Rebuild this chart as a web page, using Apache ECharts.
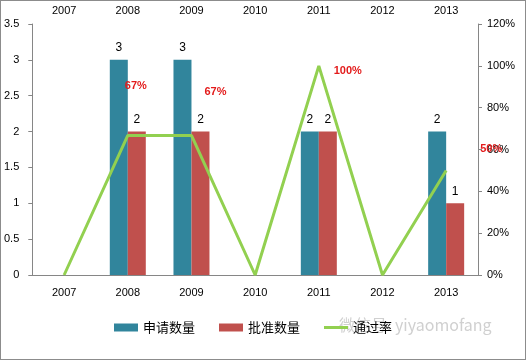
<!DOCTYPE html>
<html><head><meta charset="utf-8">
<script src="https://cdn.jsdelivr.net/npm/echarts@6/dist/echarts.min.js"></script>
<style>html,body{margin:0;padding:0;background:#fff}#c{width:526px;height:360px;box-sizing:border-box;border:1px solid #8c8c8c}</style>
</head><body><div id="c"></div>
<script>
const categories = ['2007','2008','2009','2010','2011','2012','2013'];
const applied = [null, 3, 3, null, 2, null, 2];
const approved = [null, 2, 2, null, 2, null, 1];
const passRate = [0, 0.667, 0.667, 0, 1.0, 0, 0.5];
const leftTicks = [0, 0.5, 1, 1.5, 2, 2.5, 3, 3.5];
const rightTicks = ['0%','20%','40%','60%','80%','100%','120%'];
const rateLabelOffsets = [null, [8,-39], [24,-33], null, [29,16], null, [45,-11]];

const chart = echarts.init(document.getElementById('c'));
const font = 'Liberation Sans';
chart.setOption({
  animation: false,
  textStyle: {fontFamily: font},
  grid: {left: 31, right: 47, top: 23, bottom: 84},
  legend: {
    bottom: 20, left: 108,
    itemWidth: 24, itemHeight: 8, itemGap: 24,
    textStyle: {fontFamily: 'Noto Sans CJK SC', fontSize: 13, color: '#000'},
    data: [{name: '申请数量', icon: 'rect'}, {name: '批准数量', icon: 'rect'},
      {name: '通过率', icon: 'path://M0,0H0.01V0.01H0Z M0,2.5H24V5.5H0Z M23.99,7.99H24V8H23.99Z'}]
  },
  xAxis: [{
    type: 'category', data: categories, position: 'bottom',
    axisLine: {lineStyle: {color: '#868686'}},
    axisTick: {length: 5, lineStyle: {color: '#868686'}},
    axisLabel: {color: '#000', fontSize: 11, margin: 12}
  }, {
    type: 'category', data: categories, position: 'top',
    axisLine: {lineStyle: {color: '#868686'}},
    axisTick: {length: 4, inside: true, lineStyle: {color: '#868686'}},
    axisLabel: {color: '#000', fontSize: 11, margin: 8}
  }],
  yAxis: [{
    type: 'value', min: 0, max: 3.5, interval: 0.5,
    axisLine: {show: true, lineStyle: {color: '#868686'}},
    axisTick: {show: true, length: 4, lineStyle: {color: '#868686'}},
    splitLine: {show: false},
    axisLabel: {color: '#000', fontSize: 11, margin: 13,
      formatter: v => leftTicks.includes(v) ? String(v) : ''}
  }, {
    type: 'value', min: 0, max: 1.2, interval: 0.2, position: 'right',
    axisLine: {show: true, lineStyle: {color: '#868686'}},
    axisTick: {show: true, length: 4, lineStyle: {color: '#868686'}},
    splitLine: {show: false},
    axisLabel: {color: '#000', fontSize: 11, margin: 9,
      formatter: v => rightTicks[Math.round(v / 0.2)]}
  }],
  series: [{
    name: '申请数量', type: 'bar', data: applied, barWidth: 18, barGap: '0%',
    itemStyle: {color: '#31859c'},
    label: {show: true, position: 'top', color: '#000', fontSize: 12, distance: 6}
  }, {
    name: '批准数量', type: 'bar', data: approved, barWidth: 18, barGap: '0%',
    itemStyle: {color: '#c0504d'},
    label: {show: true, position: 'top', color: '#000', fontSize: 12, distance: 6}
  }, {
    name: '通过率', type: 'line', yAxisIndex: 1, data: passRate.map((v, i) => {
      const o = rateLabelOffsets[i];
      return o ? {value: v, label: {show: true, offset: o}} : {value: v};
    }),
    symbol: 'circle', symbolSize: 0, showSymbol: true,
    lineStyle: {color: '#92d050', width: 3}, itemStyle: {color: '#92d050'},
    label: {show: false, position: 'top', color: '#e31b1b', fontWeight: 'bold', fontSize: 11,
      formatter: p => Math.round(p.value * 100) + '%'}
  }],
  graphic: [{
    type: 'text', left: 338, top: 316,
    style: {text: '微信号: yiyaomofang', fill: '#d0d0d0', fontSize: 16, fontFamily: 'Noto Sans CJK SC'}
  }]
});
</script></body></html>
